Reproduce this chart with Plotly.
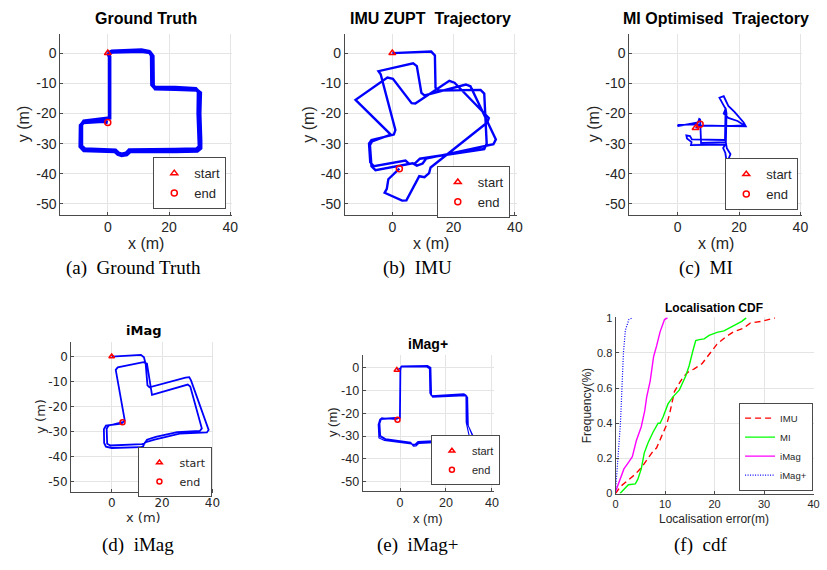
import plotly.graph_objects as go

W, H = 827, 570

# ---------------- data ----------------
# (a) ground truth trajectory (two laps)
gt_x = [0, 1.3, 11, 13.5, 14.3, 14.4, 15.2, 22, 28.7, 29.6, 29.5, 29.8, 29.9, 29, 22, 7, 6, 4.5, 3.5, 2.5,
        -7.5, -8.6, -8.6, -7.8, -1, 0.6, 0.6, 0,
        0.3, 1.5, 11, 13.8, 14.7, 14.8, 15.5, 22, 29, 30.2, 30, 30.3, 30.3, 29.2, 22, 7.3, 6.2, 4.5, 3.3, 2.3,
        -7.8, -9, -8.9, -8, -1.5, 0]
gt_y = [0, 0.6, 1.0, 0.5, -0.8, -10.5, -11.4, -11.4, -11.8, -12.8, -20, -29, -31, -31.8, -32, -32.1, -33.2, -33.5, -33.2, -32.2,
        -31.8, -30.8, -23.8, -22.6, -21.8, -21.5, -1.2, 0,
        -0.2, 0.4, 0.6, 0.2, -1, -10.6, -11.8, -12, -12.2, -13.2, -20, -29, -31.5, -32.4, -32.6, -32.6, -33.6, -33.9, -33.5, -32.6,
        -32.3, -31, -24, -23, -22.6, -23]

# (b) IMU ZUPT trajectory
imu_x = [0, 12.7, 13.9, 14.1, 15, 28.8, 30, 30.8, 30, 9, 7.5, 5.5, 4.3, -6, -7.2, -7.6, -6.8, 0.5, 1, -3.8, -4.5,
         6.8, 8, 9.5, 10.5, 24, 25.5, 33.8, 33, 11, 9.9, 8, 6.6, -5.5, -6.8, -7.3, -6.6, -0.5,
         -12, -1.6, 0.2, 6.3, 7.5, 18.6, 20.3, 31.5, 31, 12.5, 12, 10.5, 8.8, 4.6, 3.2, -2.5, -1.8, -1.3, 2.3]
imu_y = [0, 0.5, -0.8, -11.5, -12.4, -12.2, -13.4, -30, -31.8, -35, -36.5, -36.7, -35.6, -37.5, -36.2, -30, -28.8, -27, -25.5, -7, -6,
         -3.4, -4.3, -13.2, -14, -10.4, -11, -28.6, -30.2, -35, -36.6, -37.3, -36.5, -38.8, -37.5, -30.5, -29.3, -27,
         -15.5, -8.1, -8.5, -16.6, -16.7, -9.2, -9.8, -21.5, -23, -37.9, -39.8, -41.1, -40.8, -48.8, -48.9, -46.3, -45,
         -41.8, -38.3]

# (c) MI optimised trajectory
mi_x = [5.8, 7.4, 22.2, 21.5, 18.5, 16.5, 15.0, 13.6, 14.5, 15.6, 15.0, 16.5, 19.5, 21.8, 15.7, 15.6, 16.0, 17.2,
        16.6, 16.3, 15.8, 15.5, 14.8, 15.5, 4.3, 4.5, 3.0, 2.8, 4.0, 4.6, 15.4, 15.6, 15.9, 15.7, 7.6, 7.3, 7.0,
        6.6, 0.0, 0.2, 7.3]
mi_y = [-24.8, -24.0, -24.3, -23.0, -19.5, -17.5, -14.3, -14.8, -16.5, -18.5, -20, -21.5, -22.5, -24.0, -24.2, -29,
        -31.5, -33.5, -35, -36.4, -35, -33, -31.5, -30.3, -30.5, -29.5, -28.3, -27.3, -27.5, -28.6, -28.8, -18.2, -20,
        -29.5, -29.8, -22.0, -21.8, -23.0, -24.2, -23.8, -23.6]

# (d) iMag trajectory
imag_x = [0, 11.6, 12.8, 13.5, 14.2, 15, 29.3, 30.8, 31.5, 38.5, 37.8, 27, 17, 13.2, 12.5, 11.5, 0, -2.3, -3, -3.1,
          -2.3, 3.8, 5.2, 1.6, 2.4, 12.6, 14, 15.6, 16, 30.2, 31.2, 35.8, 35, 26, 17.5, 14, 13, 12, -0.5, -1.8, -2,
          -1.3, 4.3]
imag_y = [0, 0.7, -0.3, -3, -11.5, -12.3, -8.4, -8.2, -9.5, -29.3, -30.3, -30.8, -33.2, -34.3, -35.8, -36.2, -36.5,
          -36, -34.5, -29, -27.6, -26.8, -25.6, -5.3, -4.3, -2.2, -2.8, -12.5, -15.3, -11.2, -12, -28.7, -29.7, -30.2,
          -32.1, -33.2, -34.8, -35, -35.5, -34.8, -28.8, -27.6, -26.2]

# (e) iMag+ trajectory (three laps)
imagp_x = [-1.4, 0.2, 0.4, 11.8, 13, 13.3, 14, 28, 29, 29.3, 31.8, 31.2, 19, 8, 6.8, 5.6, 4.8, -6.5, -8.8, -9.1, -8.4,
           -2.5, -0.2, 0, 0.3,
           0.6, 12, 13.4, 13.7, 14.2, 28.2, 29.4, 29.7, 32.3, 31.6, 19, 8.2, 7, 5.8, 5, -6.8, -9.2, -9.5, -8.8, -2.5,
           0.1, 0.3, 0.6,
           0.2, 11.5, 12.8, 13, 13.6, 27.8, 28.7, 28.8, 30.3, 29.8, 19, 7.8, 6.6, 5.4, 4.6, -6.3, -8.5, -8.8, -8,
           -1.1]
imagp_y = [-1.2, -0.3, 0.3, 0.5, -0.3, -11.5, -12.7, -12, -12.5, -24.5, -30.5, -31.6, -32.3, -32.8, -33.8, -33.9, -33,
           -31.5, -30.3, -25, -22.3, -22.1, -21.8, -1, 0,
           0.6, 0.8, -0.1, -11.8, -13, -12.4, -13, -25.5, -31, -32, -32.8, -33.2, -34.3, -34.4, -33.4, -31.9, -30.8,
           -25, -22.7, -22.5, -22.2, -1.2, 0.4,
           0.2, 0.2, -0.6, -11.2, -12.4, -11.6, -12.1, -24, -30.8, -31.3, -31.9, -32.4, -33.5, -33.6, -32.7, -31.2,
           -29.8, -24.5, -22.1, -22.9]

# (f) localisation error CDFs
cdf_imu_err = [0, 1, 2.3, 4, 5.3, 6.3, 7.3, 8.3, 9.3, 10.3, 10.9, 11.6, 11.9, 12.7, 13.6, 14.6, 15.9, 17.5, 18.9,
               20.5, 22.2, 23.8, 25.8, 27.2, 29.5, 30.8, 32.2]
cdf_imu_p = [0.0, 0.04, 0.07, 0.11, 0.15, 0.19, 0.23, 0.26, 0.32, 0.39, 0.45, 0.55, 0.58, 0.62, 0.66, 0.69, 0.71,
             0.74, 0.79, 0.85, 0.89, 0.92, 0.94, 0.97, 0.98, 0.99, 1.0]
cdf_mi_err = [0.9, 2.0, 2.6, 4.0, 4.5, 5.2, 5.8, 6.6, 7.6, 8.6, 9.0, 9.6, 10.6, 11.6, 12.9, 14.2, 14.9, 15.6, 16.2,
              16.9, 17.9, 18.9, 20.5, 21.9, 23.2, 24.5, 25.5, 26.4]
cdf_mi_p = [0, 0.03, 0.05, 0.055, 0.08, 0.14, 0.23, 0.29, 0.35, 0.40, 0.40, 0.435, 0.51, 0.55, 0.59, 0.67, 0.73,
            0.81, 0.87, 0.876, 0.88, 0.90, 0.917, 0.926, 0.944, 0.963, 0.98, 1.0]
cdf_imag_err = [0, 1, 1.7, 2.7, 3.4, 4.2, 5.2, 5.9, 6.3, 7.0, 7.7, 8.3, 9.0, 9.9, 10.5]
cdf_imag_p = [0.01, 0.09, 0.14, 0.18, 0.21, 0.30, 0.38, 0.47, 0.55, 0.64, 0.78, 0.84, 0.92, 0.99, 1.0]
cdf_imagp_err = [0, 0.33, 0.65, 1.0, 1.3, 1.6, 2.0, 2.7, 3.4]
cdf_imagp_p = [0.01, 0.14, 0.25, 0.40, 0.60, 0.80, 0.93, 0.99, 1.0]

xy_ticks = [0, 20, 40]
y_ticks = [0, -10, -20, -30, -40, -50]
y_ticktext = ['0', '-10', '-20', '-30', '-40', '-50']
cdf_xticks = [0, 10, 20, 30, 40]
cdf_yticks = [0, 0.2, 0.4, 0.6, 0.8, 1]
cdf_yticktext = ['0', '0.2', '0.4', '0.6', '0.8', '1']

# ---------------- styling ----------------
SANS = 'Liberation Sans, Arial, Helvetica, sans-serif'
DEJ = 'DejaVu Sans, sans-serif'
SERIF = 'Liberation Serif, Times New Roman, serif'
TXT = '#262626'
AXC = '#4a4a4a'
GRID = '#e4e4e4'
BLUE = '#0000ff'
RED = '#ff0000'


def dx(a, b):
    return [a / W, b / W]


def dy(top, bottom):
    return [1 - bottom / H, 1 - top / H]


fig = go.Figure()

panels = [
    ('a', gt_x, gt_y, 3.6, 'legend'),
    ('b', imu_x, imu_y, 2.4, 'legend2'),
    ('c', mi_x, mi_y, 1.8, 'legend3'),
    ('d', imag_x, imag_y, 1.8, 'legend4'),
    ('e', imagp_x, imagp_y, 1.1, 'legend5'),
]
for i, (nm, xs, ys, lw, lg) in enumerate(panels):
    k = '' if i == 0 else str(i + 1)
    msz = 6 if i < 3 else 5
    fig.add_trace(go.Scatter(x=xs, y=ys, mode='lines', line=dict(color=BLUE, width=lw),
                             xaxis='x' + k, yaxis='y' + k, showlegend=False, hoverinfo='skip'))
    fig.add_trace(go.Scatter(x=[xs[0]], y=[ys[0]], mode='markers', name='start',
                             marker=dict(symbol='triangle-up-open', color=RED, size=msz, line=dict(width=1.5, color=RED)),
                             xaxis='x' + k, yaxis='y' + k, legend=lg))
    fig.add_trace(go.Scatter(x=[xs[-1]], y=[ys[-1]], mode='markers', name='end',
                             marker=dict(symbol='circle-open', color=RED, size=msz, line=dict(width=1.5, color=RED)),
                             xaxis='x' + k, yaxis='y' + k, legend=lg))

cdf_series = [
    ('IMU', cdf_imu_err, cdf_imu_p, dict(color=RED, width=1.4, dash='6px,4px')),
    ('MI', cdf_mi_err, cdf_mi_p, dict(color='#00ff00', width=1.4)),
    ('iMag', cdf_imag_err, cdf_imag_p, dict(color='#ff00ff', width=1.4)),
    ('iMag+', cdf_imagp_err, cdf_imagp_p, dict(color=BLUE, width=1.2, dash='1px,1.5px')),
]
for nm, xs, ys, ln in cdf_series:
    fig.add_trace(go.Scatter(x=xs, y=ys, mode='lines', name=nm, line=ln, xaxis='x6', yaxis='y6',
                             legend='legend6', hoverinfo='skip'))


def axis(domain, rng, tickvals, ticktext, font, anchor):
    return dict(domain=domain, range=rng, tickvals=tickvals, ticktext=ticktext, showgrid=True, gridcolor=GRID,
                gridwidth=1, showline=True, linecolor=AXC, linewidth=1, ticks='inside', ticklen=3, tickcolor=AXC,
                zeroline=False, tickfont=font, anchor=anchor, fixedrange=True)


f_top = dict(family=SANS, size=14, color=TXT)
f_d = dict(family=DEJ, size=12, color=TXT)
f_e = dict(family=SANS, size=12.5, color=TXT)
f_f = dict(family=SANS, size=11, color=TXT)

xt = [str(v) for v in xy_ticks]
layout_axes = dict(
    xaxis=axis(dx(58, 232), [-15.5, 40.6], xy_ticks, xt, f_top, 'y'),
    yaxis=axis(dy(29, 213), [-53.5, 6.2], y_ticks, y_ticktext, f_top, 'x'),
    xaxis2=axis(dx(346, 520), [-15.5, 40.6], xy_ticks, xt, f_top, 'y2'),
    yaxis2=axis(dy(29, 213), [-53.5, 6.2], y_ticks, y_ticktext, f_top, 'x2'),
    xaxis3=axis(dx(634, 809), [-15.8, 40.6], xy_ticks, xt, f_top, 'y3'),
    yaxis3=axis(dy(29, 213), [-53.5, 6.2], y_ticks, y_ticktext, f_top, 'x3'),
    xaxis4=axis(dx(69, 213), [-16.1, 40.4], xy_ticks, xt, f_d, 'y4'),
    yaxis4=axis(dy(343, 496), [-53.9, 5.9], y_ticks, y_ticktext, f_d, 'x4'),
    xaxis5=axis(dx(364, 497), [-16.3, 40.9], xy_ticks, xt, f_e, 'y5'),
    yaxis5=axis(dy(356, 495), [-53.8, 5.6], y_ticks, y_ticktext, f_e, 'x5'),
    xaxis6=axis(dx(620, 821), [0, 40.1], cdf_xticks, [str(v) for v in cdf_xticks], f_f, 'y6'),
    yaxis6=axis(dy(318, 498), [0, 1.003], cdf_yticks, cdf_yticktext, f_f, 'x6'),
)


def ann(text, x, y, size, family=SANS, angle=0, color=TXT):
    return dict(text=text, x=x / W, y=1 - y / H, xref='paper', yref='paper', xanchor='center', yanchor='middle',
                showarrow=False, textangle=angle, font=dict(family=family, size=size, color=color))


BLK = '#000000'
annotations = [
    ann('<b>Ground Truth</b>', 145, 13, 16, color=BLK),
    ann('<b>IMU ZUPT\u00a0 Trajectory</b>', 433, 13, 16, color=BLK),
    ann('<b>MI Optimised\u00a0 Trajectory</b>', 722, 13, 16, color=BLK),
    ann('<b>iMag</b>', 142, 331, 13, DEJ, color=BLK),
    ann('<b>iMag+</b>', 430, 345, 14, color=BLK),
    ann('<b>Localisation CDF</b>', 720, 308, 12, color=BLK),
    ann('x (m)', 145, 243, 16), ann('y (m)', 21, 121, 16, angle=-90),
    ann('x (m)', 433, 243, 16), ann('y (m)', 309, 121, 16, angle=-90),
    ann('x (m)', 722, 243, 16), ann('y (m)', 598, 121, 16, angle=-90),
    ann('x (m)', 142, 523, 13, DEJ), ann('y (m)', 38, 419, 13, DEJ, angle=-90),
    ann('x (m)', 430, 524, 13), ann('y (m)', 333, 425, 13, angle=-90),
    ann('Localisation error(m)', 720, 524, 12), ann('Frequency(%)', 592, 408, 12, angle=-90),
    ann('(a)\u00a0 Ground Truth', 132, 268, 19, SERIF, color=BLK),
    ann('(b)\u00a0 IMU', 420, 268, 19, SERIF, color=BLK),
    ann('(c)\u00a0 MI', 712, 268, 19, SERIF, color=BLK),
    ann('(d)\u00a0 iMag', 137, 551, 19, SERIF, color=BLK),
    ann('(e)\u00a0 iMag+', 420, 551, 19, SERIF, color=BLK),
    ann('(f)\u00a0 cdf', 706, 551, 19, SERIF, color=BLK),
]


def leg(xr, yc, size, family=SANS, anchor='middle'):
    return dict(x=xr / W, y=1 - yc / H, xanchor='right', yanchor=anchor, bgcolor='white',
                bordercolor=AXC, borderwidth=1, font=dict(family=family, size=size, color=TXT),
                itemwidth=30, tracegroupgap=0)


fig.update_layout(
    width=W, height=H, autosize=False,
    margin=dict(l=0, r=0, t=0, b=0),
    paper_bgcolor='white', plot_bgcolor='white',
    annotations=annotations,
    legend=leg(226, 181, 13),
    legend2=leg(513, 190, 13),
    legend3=leg(805, 182, 13),
    legend4=leg(212, 476, 11, DEJ),
    legend5=leg(503, 464, 11),
    legend6=leg(820, 495, 9.5, anchor='bottom'),
    **layout_axes,
)

fig.write_html('out.html', config={'displayModeBar': False},
               post_script="document.body.style.margin='0px';")
